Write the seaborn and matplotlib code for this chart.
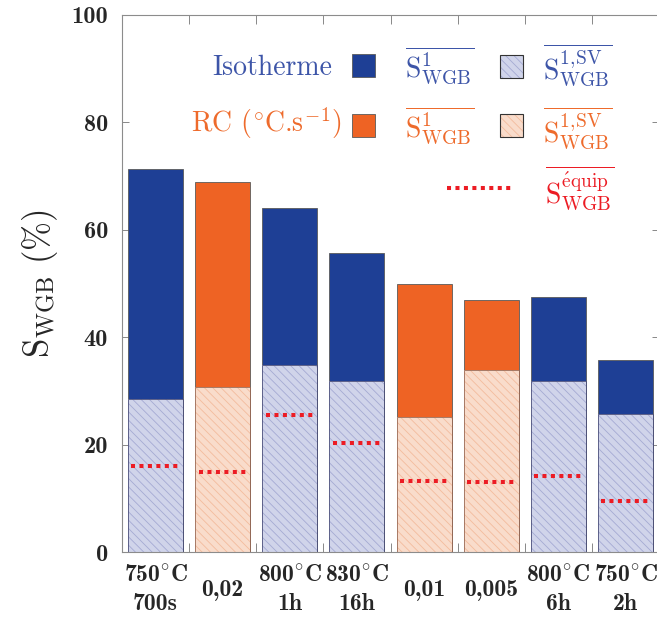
import numpy as np
import pandas as pd
import matplotlib
matplotlib.use("Agg")
import matplotlib.pyplot as plt
from matplotlib.patches import Rectangle
from matplotlib.lines import Line2D
import seaborn as sns

# --- data ---
categories = ["750°C 700s", "0,02", "800°C 1h", "830°C 16h",
              "0,01", "0,005", "800°C 6h", "750°C 2h"]
deg = "$^{\\!\\circ}\\!$"
tick_labels = ["750" + deg + "C\n700s", "0,02", "800" + deg + "C\n1h", "830" + deg + "C\n16h",
               "0,01", "0,005", "800" + deg + "C\n6h", "750" + deg + "C\n2h"]
treatment = ["iso", "rc", "iso", "iso", "rc", "rc", "iso", "iso"]
s_total = [71.3, 69.0, 64.1, 55.7, 50.0, 47.0, 47.6, 35.7]
s_sv = [28.5, 30.7, 34.9, 31.9, 25.1, 33.9, 31.9, 25.7]
s_equip = [16.1, 15.0, 25.6, 20.3, 13.3, 13.1, 14.2, 9.6]
y_ticks = [0, 20, 40, 60, 80, 100]

df = pd.DataFrame({"cat": categories, "treat": treatment,
                   "total": s_total, "sv": s_sv, "equip": s_equip})

blue = "#1e3f95"
orange = "#ee6324"
red = "#ec1c24"
blue_txt = "#3d55a8"
orange_txt = "#ee6b2c"
light = {"iso": "#d0d4ea", "rc": "#f9dccb"}
hatch_col = {"iso": "#a4aad3", "rc": "#f3bb9d"}
bold_cm = ["cmb10", "DejaVu Serif"]
roman_cm = ["cmr10", "DejaVu Serif"]

sns.set_style("ticks")
plt.rcParams["mathtext.fontset"] = "cm"
plt.rcParams["hatch.linewidth"] = 0.6

fig = plt.figure(figsize=(6.57, 6.17), dpi=100)
ax = fig.add_axes([0.1857, 0.1049, 0.8174, 0.8708])

bw = 0.82
# full bars (solid colour = S1)
sns.barplot(data=df, x="cat", y="total", hue="treat", palette={"iso": blue, "rc": orange},
            order=categories, dodge=False, width=bw, saturation=1, legend=False,
            edgecolor="#5a5a5a", linewidth=0.6, ax=ax)
n0 = len(ax.patches)
# hatched lower part (S1,SV)
sns.barplot(data=df, x="cat", y="sv", hue="treat", palette=light,
            order=categories, dodge=False, width=bw, saturation=1, legend=False,
            linewidth=0, ax=ax)
for p in ax.patches[n0:]:
    if p.get_height() == 0:
        continue
    fc = p.get_facecolor()
    key = "iso" if fc[2] > fc[0] else "rc"
    p.set_edgecolor(hatch_col[key])
    p.set_hatch("\\\\\\\\")
    p.set_linewidth(0)
    ax.add_patch(Rectangle(p.get_xy(), p.get_width(), p.get_height(), fill=False,
                           ec="#4b4f7a" if key == "iso" else "#9a6a55", lw=0.6))

# equipment dotted lines
xs = np.arange(len(categories))
ax.hlines(df["equip"], xs - 0.36, xs + 0.36, colors=red, linewidth=2.9,
          linestyles=(0, (1, 1.1)))

ax.set_xlim(-0.5, 7.5)
ax.set_ylim(0, 100)
ax.set_xlabel("")
ax.set_ylabel(r"$\mathrm{S}_{\mathrm{WGB}}\ (\%)$", fontsize=25, labelpad=8)

ax.set_xticks(xs)
ax.set_xticklabels(tick_labels, fontsize=17, family=bold_cm)
ax.set_xticks(xs[:-1] + 0.5, minor=True)
ax.tick_params(axis="x", which="major", length=0, pad=27)
ax.tick_params(axis="x", which="minor", direction="in", length=6.5, width=0.7,
               color="#888888", top=True, bottom=True)
for lab in ax.get_xticklabels():
    lab.set_va("center")
    lab.set_linespacing(1.4)

ax.set_yticks(y_ticks)
ax.set_yticklabels([str(v) for v in y_ticks], fontsize=17.5, family=bold_cm)
ax.tick_params(axis="y", direction="in", length=5, width=0.7, color="#888888",
               left=True, right=True, pad=10)

for s in ax.spines.values():
    s.set_color("#8c8c8c")
    s.set_linewidth(0.8)

# --- hand-made legend ---
fs = 20
T = ax.transAxes
ax.text(0.391, 0.901, "Isotherme", color=blue_txt, fontsize=fs, family=roman_cm,
        ha="right", va="center", transform=T)
ax.text(0.410, 0.799, r"RC ($^{\!\circ}\!$C.s$^{\!-\!1}$)", color=orange_txt, fontsize=fs,
        family=roman_cm, ha="right", va="center", transform=T)
ax.add_patch(Rectangle((0.4287, 0.8846), 0.0429, 0.0428, fc=blue, ec="#5a5a5a",
                       lw=0.6, transform=T))
ax.add_patch(Rectangle((0.4287, 0.7735), 0.0429, 0.0428, fc=orange, ec="#5a5a5a",
                       lw=0.6, transform=T))
for yb, key in [(0.8827, "iso"), (0.773, "rc")]:
    ax.add_patch(Rectangle((0.7046, yb), 0.0429, 0.0428, fc=light[key],
                           ec=hatch_col[key], lw=0, hatch="\\\\\\\\", transform=T))
    ax.add_patch(Rectangle((0.7046, yb), 0.0429, 0.0428, fill=False, ec="#333333",
                           lw=0.8, transform=T))
s1 = r"$\overline{\mathrm{S}^{1}_{\mathrm{WGB}}}$"
s1sv = r"$\overline{\mathrm{S}^{1,\!\mathrm{SV}}_{\mathrm{WGB}}}$"
seq = r"$\overline{\mathrm{S}^{\mathrm{\acute{e}quip}}_{\mathrm{WGB}}}$"
ax.text(0.5275, 0.905, s1, color=blue_txt, fontsize=fs, ha="left", va="center", transform=T)
ax.text(0.7847, 0.907, s1sv, color=blue_txt, fontsize=fs, ha="left", va="center", transform=T)
ax.text(0.5275, 0.794, s1, color=orange_txt, fontsize=fs, ha="left", va="center", transform=T)
ax.text(0.7847, 0.7906, s1sv, color=orange_txt, fontsize=fs, ha="left", va="center", transform=T)
ax.text(0.788, 0.678, seq, color=red, fontsize=fs, ha="left", va="center", transform=T)
ax.add_line(Line2D([0.605, 0.726], [0.6775, 0.6775], color=red, lw=2.9,
                   linestyle=(0, (1, 1.1)), transform=T))

fig.savefig("out.png", dpi=100)
